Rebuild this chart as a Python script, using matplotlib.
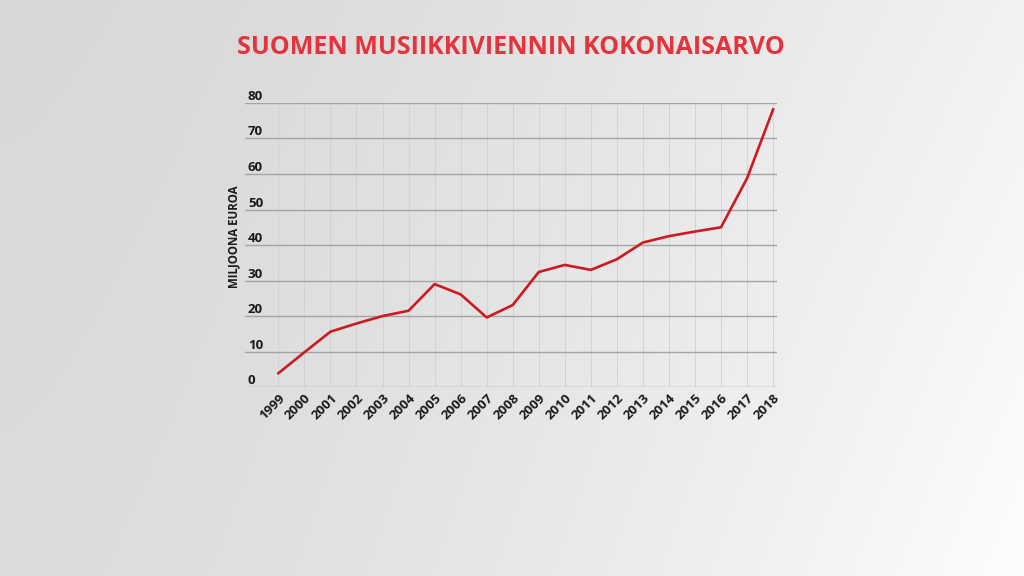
import numpy as np
import matplotlib
matplotlib.use("Agg")
import matplotlib.pyplot as plt

years = list(range(1999, 2019))
values = [3.9, 9.8, 15.6, 17.9, 20.0, 21.5, 29.0, 26.1, 19.6, 23.1,
          32.4, 34.4, 33.0, 36.0, 40.7, 42.5, 43.8, 45.0, 58.8, 78.2]
y_ticks = [0, 10, 20, 30, 40, 50, 60, 70, 80]
title = "SUOMEN MUSIIKKIVIENNIN KOKONAISARVO"
y_label = "MILJOONA EUROA"

plt.rcParams['font.family'] = ['Open Sans', 'DejaVu Sans']

fig = plt.figure(figsize=(10.24, 5.76), dpi=100)

# background gradient: darker top-left, lighter toward bottom-right
bg = fig.add_axes([0, 0, 1, 1], zorder=-10)
gx, gy = np.meshgrid(np.linspace(0, 1, 256), np.linspace(0, 1, 144))
xp = gx ** 1.5
bot = 1 - gy  # with origin='lower', gy=0 is the bottom row
shade = (216 + 26 * xp + 4 * bot + 7 * xp * bot) / 255.0
img = np.dstack([shade, shade, shade])
bg.imshow(img, origin='lower', aspect='auto', extent=[0, 1, 0, 1])
bg.axis('off')

ax = fig.add_axes([0.2393, 0.328, 0.5195, 0.4932])
ax.set_facecolor('none')
ax.plot(years, values, color='#cc1a20', linewidth=1.9, zorder=3)
ax.set_xlim(1997.72, 2018.15)
ax.set_ylim(0, 80)

ax.set_yticks(y_ticks)
ax.set_yticklabels([str(v) for v in y_ticks])
ax.set_xticks(years)
ax.set_xticklabels([str(y) for y in years])
ax.tick_params(axis='y', length=0, pad=-2, labelsize=9.5, labelcolor='#1a1a1a')
ax.tick_params(axis='x', length=0, pad=3, labelsize=9.5, labelcolor='#1a1a1a')
for lab in ax.get_yticklabels():
    lab.set_ha('left')
    lab.set_va('bottom')
    lab.set_fontweight('bold')
for lab in ax.get_xticklabels():
    lab.set_rotation(45)
    lab.set_ha('right')
    lab.set_va('top')
    lab.set_rotation_mode('anchor')
    lab.set_fontweight('bold')

ax.grid(axis='y', color='#a4a4a4', linewidth=1.0)
ax.grid(axis='x', color='#d0d0d0', linewidth=0.6)
ax.set_axisbelow(True)
for s in ax.spines.values():
    s.set_visible(False)

fig.text(234 / 1024, (576 - 237) / 576, y_label, rotation=90, ha='center', va='center',
         fontsize=8.3, fontweight='bold', color='#1a1a1a')

fig.text(511 / 1024, (576 - 47) / 576, title, ha='center', va='center',
         fontsize=18, fontweight='bold', color='#e5333b')

fig.savefig('out.png', dpi=100)
